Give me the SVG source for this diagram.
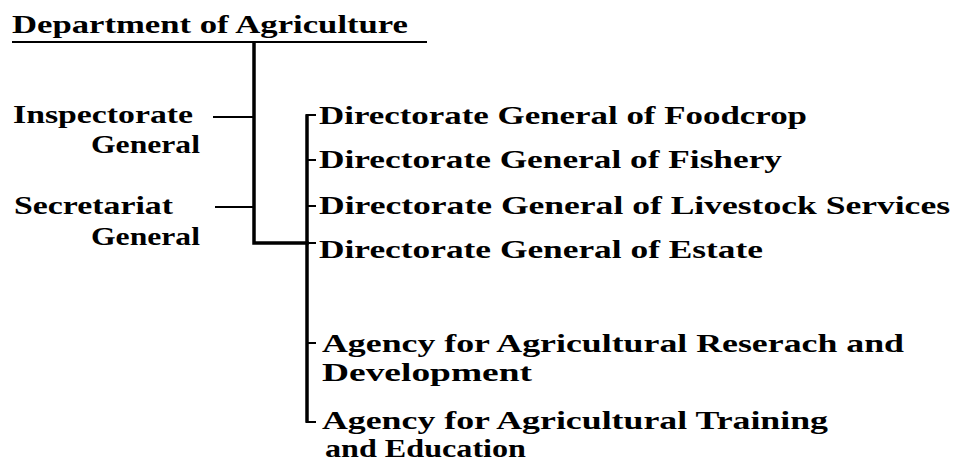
<svg xmlns="http://www.w3.org/2000/svg" width="957" height="462" viewBox="0 0 957 462">
<style>
text { font-family: "Liberation Serif", "DejaVu Serif", serif; font-weight: bold; font-size: 25px; fill: #000; }
.trunk { stroke: #000; stroke-width: 3.5; fill: none; stroke-linecap: square; }
.tick { stroke: #000; stroke-width: 2; fill: none; }
</style>
<rect width="957" height="462" fill="#fff"/>
<g id="connectors">
  <line class="tick" x1="12" y1="42" x2="427" y2="42"/>
  <polyline class="trunk" points="254,43 254,243 307,243"/>
  <line class="tick" x1="213" y1="117" x2="254" y2="117"/>
  <line class="tick" x1="215" y1="207" x2="254" y2="207"/>
  <line class="trunk" x1="307" y1="116" x2="307" y2="421"/>
  <line class="tick" x1="306" y1="115" x2="316" y2="115"/>
  <line class="tick" x1="307" y1="160" x2="316" y2="160"/>
  <line class="tick" x1="307" y1="206" x2="316" y2="206"/>
  <line class="tick" x1="307" y1="243" x2="316" y2="243"/>
  <line class="tick" x1="307" y1="343" x2="316" y2="343"/>
  <line class="tick" x1="306" y1="422" x2="316" y2="422"/>
</g>
<g id="dept"><text x="12" y="33" textLength="396" lengthAdjust="spacingAndGlyphs">Department of Agriculture</text></g>
<g id="inspectorate">
  <text x="13" y="123" textLength="180" lengthAdjust="spacingAndGlyphs">Inspectorate</text>
  <text x="91" y="153" textLength="109" lengthAdjust="spacingAndGlyphs">General</text>
</g>
<g id="secretariat">
  <text x="14" y="214" textLength="159" lengthAdjust="spacingAndGlyphs">Secretariat</text>
  <text x="91" y="245" textLength="109" lengthAdjust="spacingAndGlyphs">General</text>
</g>
<g id="foodcrop"><text x="319" y="124" textLength="488" lengthAdjust="spacingAndGlyphs">Directorate General of Foodcrop</text></g>
<g id="fishery"><text x="319" y="168" textLength="463" lengthAdjust="spacingAndGlyphs">Directorate General of Fishery</text></g>
<g id="livestock"><text x="319" y="214" textLength="631" lengthAdjust="spacingAndGlyphs">Directorate General of Livestock Services</text></g>
<g id="estate"><text x="319" y="258" textLength="444" lengthAdjust="spacingAndGlyphs">Directorate General of Estate</text></g>
<g id="research">
  <text x="322" y="352" textLength="582" lengthAdjust="spacingAndGlyphs">Agency for Agricultural Reserach and</text>
  <text x="322" y="381" textLength="210" lengthAdjust="spacingAndGlyphs">Development</text>
</g>
<g id="training">
  <text x="322" y="429" textLength="506" lengthAdjust="spacingAndGlyphs">Agency for Agricultural Training</text>
  <text x="325" y="457" textLength="201" lengthAdjust="spacingAndGlyphs">and Education</text>
</g>
</svg>
